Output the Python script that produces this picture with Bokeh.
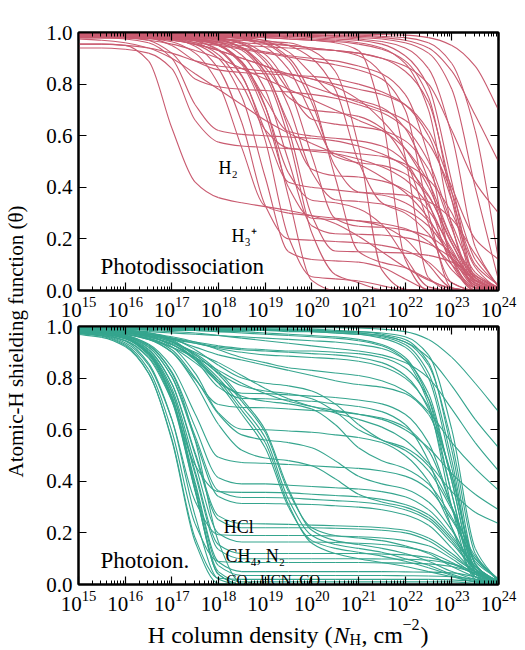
import math

from bokeh.embed import file_html
from bokeh.layouts import column, row
from bokeh.models import (ColumnDataSource, CustomJSTickFormatter, FixedTicker, Label, LinearAxis,
                          LogAxis, PrintfTickFormatter, Range1d)
from bokeh.plotting import figure
from bokeh.resources import INLINE

# Hydrogen column density grid, log10(N_H / cm^-2)
log_nh = [15.0, 15.5, 16.0, 16.5, 17.0, 17.5, 18.0, 18.5, 19.0, 19.5,
          20.0, 20.5, 21.0, 21.5, 22.0, 22.5, 23.0, 23.5, 24.0]

# ---- Photodissociation shielding functions (theta on the log_nh grid) ----
pd_early = [
    [.955, .955, .95, .89, .63, .42, .36, .34, .325, .31, .29, .26, .21, .15, .09, .04, .01, 0, 0],
    [.94, .94, .935, .92, .86, .66, .575, .56, .555, .55, .54, .53, .51, .48, .43, .33, .15, .04, .01],
    [.985, .98, .975, .96, .90, .72, .62, .605, .60, .595, .59, .58, .56, .53, .48, .37, .18, .05, .01],
    [.99, .99, .985, .97, .92, .82, .79, .78, .775, .77, .76, .745, .72, .69, .63, .50, .26, .07, .01],
    [.99, .99, .99, .98, .95, .89, .855, .845, .84, .835, .83, .82, .80, .77, .72, .60, .35, .10, .02],
    [.975, .97, .96, .94, .90, .84, .78, .72, .66, .61, .57, .53, .49, .44, .38, .28, .12, .03, 0],
    [.955, .955, .95, .94, .92, .89, .87, .86, .85, .84, .82, .79, .74, .66, .55, .40, .20, .06, .01],
]
pd_band = [
    [.985, .985, .983, .978, .964, .92, .80, .553, .327, .30, .29, .28, .27, .25, .20, .10, .01, 0, 0],
    [.99, .99, .988, .985, .976, .947, .86, .65, .33, .20, .195, .19, .185, .175, .155, .11, .03, 0, 0],
    [.985, .985, .985, .983, .979, .967, .93, .83, .62, .42, .40, .39, .38, .37, .34, .27, .14, .02, 0],
    [.98, .98, .98, .977, .971, .954, .90, .75, .44, .15, .12, .115, .11, .09, .045, .005, 0, 0, 0],
    [.99, .99, .99, .989, .986, .977, .95, .875, .685, .40, .28, .275, .27, .26, .24, .19, .10, .01, 0],
    [.985, .985, .985, .983, .979, .968, .934, .833, .583, .207, .053, .045, .037, .019, .002, 0, 0, 0, 0],
    [.99, .99, .99, .99, .988, .985, .974, .94, .845, .65, .47, .445, .44, .425, .39, .31, .16, .02, 0],
    [.985, .985, .985, .985, .983, .977, .962, .912, .778, .503, .251, .22, .218, .215, .205, .18, .125, .037, 0],
    [.98, .98, .98, .98, .977, .97, .951, .887, .715, .363, .039, 0, 0, 0, 0, 0, 0, 0, 0],
    [.99, .99, .99, .99, .989, .986, .978, .955, .886, .715, .458, .352, .345, .335, .31, .25, .13, .014, 0],
    [.985, .985, .985, .985, .983, .98, .97, .939, .849, .626, .29, .153, .15, .148, .145, .136, .11, .056, .006],
    [.99, .99, .99, .99, .99, .989, .985, .975, .943, .858, .681, .519, .495, .485, .453, .365, .185, .02, 0],
    [.985, .985, .985, .985, .985, .983, .978, .963, .915, .787, .522, .279, .249, .245, .235, .21, .143, .042, 0],
    [.99, .99, .99, .99, .99, .989, .986, .979, .956, .891, .728, .482, .382, .376, .369, .344, .277, .141, .015],
    [.99, .99, .99, .989, .986, .978, .953, .885, .744, .616, .599, .59, .58, .56, .50, .34, .10, 0, 0],
    [.99, .99, .99, .989, .988, .985, .974, .943, .865, .749, .699, .69, .675, .63, .51, .26, .03, 0, 0],
    [.99, .99, .99, .99, .989, .987, .98, .958, .898, .776, .664, .645, .635, .62, .58, .47, .24, .026, 0],
    [.99, .99, .99, .99, .99, .989, .988, .983, .967, .925, .838, .756, .737, .709, .628, .428, .126, .003, 0],
    [.985, .985, .984, .982, .977, .961, .914, .798, .623, .552, .545, .54, .53, .52, .49, .43, .30, .09, 0],
    [.985, .985, .985, .984, .981, .974, .95, .881, .712, .456, .35, .34, .317, .256, .13, .014, 0, 0, 0],
    [.98, .98, .98, .98, .978, .975, .964, .931, .832, .591, .223, .062, .03, .003, 0, 0, 0, 0, 0],
    [.985, .985, .985, .985, .985, .985, .982, .976, .959, .903, .751, .439, .151, .109, .088, .044, .005, 0, 0],
]
pd_mid = [
    [.985, .985, .98, .98, .98, .975, .97, .97, .965, .96, .93, .85, .56, .08, .005, 0, 0, 0, 0],
    [.99, .99, .99, .99, .99, .985, .985, .98, .98, .975, .97, .96, .93, .68, .12, 0, 0, 0, 0],
    [.98, .98, .98, .975, .975, .97, .965, .96, .955, .95, .94, .93, .91, .84, .52, .05, 0, 0, 0],
    [.99, .99, .985, .98, .975, .96, .95, .935, .92, .905, .89, .875, .855, .82, .70, .30, .01, 0, 0],
    [.99, .99, .99, .99, .99, .99, .985, .98, .97, .95, .90, .78, .50, .34, .30, .22, .08, .01, 0],
    [.99, .985, .98, .97, .955, .93, .90, .86, .82, .78, .74, .70, .66, .62, .55, .42, .20, .05, 0],
    [.995, .99, .985, .98, .97, .955, .93, .90, .87, .83, .79, .76, .73, .70, .66, .57, .38, .12, .02],
]
pd_late = [
    [.995, .995, .995, .99, .99, .99, .99, .985, .985, .98, .975, .97, .96, .94, .88, .70, .25, .01, 0],
    [.995, .995, .995, .995, .99, .99, .99, .99, .985, .985, .98, .975, .97, .955, .91, .79, .42, .05, 0],
    [.99, .99, .99, .985, .98, .97, .96, .95, .945, .94, .935, .93, .92, .90, .85, .73, .38, .04, 0],
    [.995, .995, .995, .995, .995, .99, .99, .99, .99, .985, .985, .98, .975, .965, .94, .86, .60, .17, .01],
    [.997, .997, .997, .997, .995, .995, .995, .995, .99, .99, .99, .985, .98, .975, .96, .92, .78, .40, .04],
    [.997, .997, .997, .997, .997, .997, .995, .995, .995, .995, .99, .99, .99, .985, .98, .96, .88, .62, .12],
    [.998, .998, .998, .998, .998, .997, .997, .997, .996, .996, .995, .995, .994, .992, .99, .98, .95, .87, .70],
    [.99, .99, .99, .985, .98, .97, .955, .94, .925, .91, .90, .89, .87, .84, .76, .52, .12, 0, 0],
    [.99, .99, .985, .98, .97, .955, .93, .90, .87, .84, .82, .80, .78, .76, .72, .62, .40, .20, .12],
    [.995, .995, .99, .99, .985, .98, .975, .97, .96, .95, .94, .93, .92, .90, .87, .80, .62, .42, .30],
    [.997, .997, .997, .996, .995, .995, .994, .993, .992, .99, .99, .988, .985, .98, .97, .94, .85, .68, .50],
    [.995, .995, .995, .99, .99, .99, .985, .985, .98, .975, .97, .965, .955, .935, .89, .75, .35, .03, 0],
]

# ---- Photoionization shielding functions ----
pi_early = [
    [.974, .962, .926, .82, .559, .165, .004, 0, 0, 0, 0, 0, 0, 0, 0, 0, 0, 0, 0],
    [.982, .975, .955, .891, .719, .364, .039, 0, 0, 0, 0, 0, 0, 0, 0, 0, 0, 0, 0],
    [.969, .958, .922, .819, .564, .18, .024, .02, .02, .02, .02, .02, .02, .02, .02, .02, .018, .012, .004],
    [.977, .971, .952, .89, .725, .385, .073, .035, .035, .035, .035, .035, .035, .035, .034, .033, .03, .02, .008],
    [.982, .976, .957, .896, .733, .396, .087, .05, .05, .05, .05, .05, .05, .05, .049, .048, .045, .03, .01],
    [.975, .964, .931, .834, .595, .235, .089, .085, .085, .085, .085, .085, .085, .084, .083, .08, .07, .045, .015],
    [.982, .976, .958, .901, .746, .427, .135, .10, .10, .10, .10, .10, .10, .099, .098, .094, .08, .05, .015],
    [.977, .971, .954, .898, .748, .438, .154, .12, .12, .12, .12, .12, .12, .118, .115, .105, .08, .04, .01],
    [.983, .977, .962, .912, .778, .503, .251, .22, .22, .22, .22, .218, .215, .21, .20, .17, .11, .05, .01],
    [.975, .966, .937, .851, .64, .323, .193, .19, .19, .19, .19, .188, .185, .18, .17, .15, .10, .04, .01],
    [.977, .972, .956, .903, .76, .467, .198, .165, .165, .165, .165, .163, .16, .155, .145, .125, .085, .04, .01],
    [.972, .965, .946, .882, .712, .361, .039, 0, 0, 0, 0, 0, 0, 0, 0, 0, 0, 0, 0],
    [.981, .971, .944, .858, .64, .266, .02, 0, 0, 0, 0, 0, 0, 0, 0, 0, 0, 0, 0],
    [.978, .974, .962, .926, .82, .559, .165, .004, 0, 0, 0, 0, 0, 0, 0, 0, 0, 0, 0],
    [.987, .98, .961, .897, .725, .373, .049, .01, .01, .01, .01, .01, .01, .01, .01, .01, .01, .005, 0],
]
pi_plateau = [
    [.99, .989, .986, .976, .949, .883, .782, .741, .74, .735, .73, .725, .715, .70, .66, .55, .30, .05, 0],
    [.985, .983, .98, .97, .942, .871, .765, .721, .72, .715, .71, .70, .69, .67, .62, .48, .22, .03, 0],
    [.979, .977, .971, .952, .901, .795, .698, .686, .685, .68, .675, .67, .66, .645, .61, .52, .30, .07, .01],
    [.984, .983, .978, .964, .922, .819, .665, .602, .60, .595, .59, .58, .57, .55, .50, .40, .22, .06, .01],
    [.978, .975, .965, .932, .843, .661, .493, .473, .47, .465, .46, .455, .45, .44, .42, .37, .25, .10, .02],
    [.983, .979, .967, .928, .824, .61, .414, .39, .39, .385, .38, .375, .37, .36, .34, .29, .19, .07, .01],
    [.976, .969, .946, .878, .712, .462, .36, .357, .357, .355, .35, .345, .34, .33, .31, .27, .18, .07, .01],
    [.978, .974, .961, .919, .806, .575, .363, .337, .337, .335, .33, .325, .32, .31, .29, .25, .16, .06, .01],
    [.983, .978, .965, .921, .804, .562, .341, .314, .314, .312, .31, .305, .30, .29, .27, .23, .14, .05, .01],
    [.978, .973, .958, .909, .779, .511, .266, .236, .235, .233, .23, .228, .225, .22, .21, .18, .12, .05, .01],
]
pi_diag = [
    [.98, .98, .975, .96, .93, .88, .80, .69, .57, .33, .19, .155, .14, .125, .10, .075, .04, .015, 0],
    [.985, .985, .98, .965, .94, .895, .825, .72, .60, .37, .21, .17, .155, .14, .12, .09, .05, .02, .005],
    [.975, .975, .97, .955, .92, .86, .78, .66, .53, .30, .17, .14, .125, .11, .09, .065, .035, .01, 0],
    [.98, .98, .975, .96, .935, .89, .815, .71, .59, .36, .22, .19, .18, .17, .15, .12, .07, .03, .005],
    [.985, .98, .975, .96, .93, .875, .79, .675, .55, .31, .16, .12, .10, .085, .07, .05, .03, .01, 0],
]
pi_upper = [
    [.995, .995, .995, .99, .99, .99, .99, .985, .985, .985, .98, .975, .97, .955, .92, .80, .45, .06, 0],
    [.99, .99, .99, .99, .985, .985, .98, .98, .975, .97, .965, .96, .95, .93, .88, .72, .35, .03, 0],
    [.995, .995, .995, .995, .99, .99, .99, .99, .985, .985, .985, .98, .975, .965, .94, .85, .55, .12, .01],
    [.99, .99, .985, .98, .975, .97, .965, .96, .955, .95, .945, .94, .93, .915, .87, .74, .40, .05, 0],
    [.985, .985, .98, .97, .955, .94, .925, .915, .91, .905, .905, .90, .895, .88, .84, .72, .40, .05, 0],
    [.98, .98, .975, .965, .95, .935, .92, .91, .905, .90, .895, .89, .88, .86, .81, .68, .35, .04, 0],
    [.99, .985, .98, .97, .955, .935, .915, .90, .89, .885, .88, .875, .865, .845, .80, .69, .42, .08, 0],
    [.985, .985, .98, .97, .95, .92, .89, .87, .85, .83, .81, .79, .775, .765, .74, .66, .42, .08, 0],
    [.995, .995, .995, .995, .995, .99, .99, .99, .99, .985, .985, .98, .98, .97, .95, .86, .52, .08, 0],
    [.99, .99, .99, .99, .99, .99, .985, .985, .985, .98, .98, .975, .97, .96, .93, .82, .48, .06, 0],
    [.995, .995, .995, .995, .995, .995, .99, .99, .99, .99, .99, .985, .98, .975, .96, .89, .60, .14, .01],
    [.99, .99, .99, .99, .99, .985, .98, .975, .97, .965, .96, .955, .945, .925, .87, .70, .30, .02, 0],
]
pi_edge = [
    [.998, .998, .998, .998, .997, .997, .997, .997, .996, .996, .995, .995, .994, .99, .98, .95, .88, .78, .67],
    [.995, .995, .995, .995, .995, .99, .99, .99, .99, .99, .985, .98, .975, .965, .94, .88, .77, .64, .53],
    [.99, .99, .99, .985, .98, .975, .965, .955, .945, .935, .925, .915, .905, .89, .86, .80, .68, .55, .44],
    [.99, .99, .985, .975, .96, .94, .91, .88, .86, .84, .83, .82, .81, .79, .75, .67, .55, .45, .365],
    [.985, .98, .97, .95, .92, .88, .83, .78, .74, .71, .69, .675, .66, .64, .60, .53, .43, .35, .29],
    [.99, .99, .98, .965, .94, .90, .86, .81, .76, .72, .69, .665, .64, .61, .56, .47, .36, .28, .236],
]
pi_wave = [
    [.985, .985, .98, .97, .945, .89, .82, .77, .75, .74, .72, .67, .60, .56, .53, .46, .30, .10, .02],
    [.98, .98, .975, .96, .93, .87, .79, .73, .71, .70, .68, .62, .53, .48, .45, .39, .26, .09, .02],
    [.99, .99, .985, .975, .955, .91, .85, .80, .78, .77, .75, .70, .62, .56, .52, .44, .29, .11, .02],
    [.98, .98, .97, .95, .90, .78, .62, .52, .49, .48, .46, .41, .35, .32, .30, .26, .17, .06, .01],
    [.985, .98, .97, .955, .91, .80, .66, .58, .56, .55, .53, .48, .42, .39, .37, .32, .21, .07, .01],
]

# Axis ticks
x_major_exponents = [15, 16, 17, 18, 19, 20, 21, 22, 23, 24]
y_major = [0.0, 0.2, 0.4, 0.6, 0.8, 1.0]

PINK = "#c95b70"
TEAL = "#35a58e"
SERIF = "Liberation Serif"
TICK_FONT = "21px"

x_major = [10.0 ** e for e in x_major_exponents]
x_minor = [m * 10.0 ** e for e in x_major_exponents[:-1] for m in range(2, 10)]

FRAME_W = 420
FRAME_H = 258
BORDER_L = 38
BORDER_R = 27
OVERLAP = 14       # lower panel canvas slides under the upper panel's decade labels


def curve_segments(groups):
    """Cubic Bezier pieces through every sample (monotone Hermite tangents in log N)."""
    seg = {k: [] for k in ("x0", "y0", "x1", "y1", "cx0", "cy0", "cx1", "cy1")}
    xs = log_nh
    for g in groups:
        for ys in g:
            n = len(ys)
            h = [xs[i + 1] - xs[i] for i in range(n - 1)]
            d = [(ys[i + 1] - ys[i]) / h[i] for i in range(n - 1)]
            m = [0.0] * n
            m[0], m[-1] = d[0], d[-1]
            for i in range(1, n - 1):
                if d[i - 1] * d[i] > 0:
                    w1, w2 = 2 * h[i] + h[i - 1], h[i] + 2 * h[i - 1]
                    m[i] = (w1 + w2) / (w1 / d[i - 1] + w2 / d[i])
            for i in range(n - 1):
                seg["x0"].append(10.0 ** xs[i])
                seg["y0"].append(ys[i])
                seg["x1"].append(10.0 ** xs[i + 1])
                seg["y1"].append(ys[i + 1])
                seg["cx0"].append(10.0 ** (xs[i] + h[i] / 3))
                seg["cy0"].append(ys[i] + m[i] * h[i] / 3)
                seg["cx1"].append(10.0 ** (xs[i + 1] - h[i] / 3))
                seg["cy1"].append(ys[i + 1] - m[i + 1] * h[i] / 3)
    return ColumnDataSource(seg)


def style_axis(ax, labels, standoff=6):
    ax.axis_line_color = "black"
    ax.axis_line_width = 2
    ax.major_tick_in = 8
    ax.major_tick_out = 0
    ax.minor_tick_in = 4
    ax.minor_tick_out = 0
    ax.major_tick_line_color = "black"
    ax.minor_tick_line_color = "black"
    ax.major_tick_line_width = 1.2
    ax.minor_tick_line_width = 1
    ax.major_label_text_font = SERIF
    ax.major_label_text_color = "black"
    if labels:
        ax.major_label_text_font_size = TICK_FONT
        ax.major_label_standoff = standoff
    else:
        # mirrored axis: ticks only, blank labels
        ax.formatter = CustomJSTickFormatter(code="return ''")
        ax.major_label_text_font_size = "1px"
        ax.major_label_standoff = 0


def make_panel(groups, color, top, bottom, **kw):
    p = figure(frame_width=FRAME_W, frame_height=FRAME_H, x_axis_type="log",
               x_range=Range1d(1e15, 1e24), y_range=Range1d(0, 1),
               toolbar_location=None, output_backend="svg",
               min_border_left=BORDER_L, min_border_right=BORDER_R,
               min_border_top=top, min_border_bottom=bottom, **kw)
    p.grid.visible = False
    p.outline_line_color = "black"
    p.outline_line_width = 2
    p.background_fill_color = "white"
    p.border_fill_color = None

    p.add_layout(LogAxis(), "above")
    p.add_layout(LinearAxis(), "right")

    for ax in p.xaxis:
        ax.ticker = FixedTicker(ticks=x_major, minor_ticks=x_minor)
    for ax in p.yaxis:
        ax.ticker = FixedTicker(ticks=y_major, minor_ticks=[])
        ax.formatter = PrintfTickFormatter(format="%.1f")

    style_axis(p.below[0], True)
    style_axis(p.left[0], True)
    style_axis(p.above[0], False)
    style_axis(p.right[0], False)

    p.bezier(x0="x0", y0="y0", x1="x1", y1="y1", cx0="cx0", cy0="cy0", cx1="cx1", cy1="cy1",
             source=curve_segments(groups), line_color=color, line_width=1.1)
    return p


def note(p, logx, y, text, size):
    p.add_layout(Label(x=10.0 ** logx, y=y, text=text, text_font=SERIF,
                       text_font_size=size, text_color="black",
                       text_align="left", text_baseline="alphabetic"))


top = make_panel([pd_early, pd_band, pd_mid, pd_late], PINK, 32, 34)
note(top, 18.0, 0.473, "H₂", "18px")
note(top, 18.28, 0.213, "H₃⁺", "18px")
note(top, 15.47, 0.093, "Photodissociation", "23px")

bot = make_panel([pi_early, pi_plateau, pi_diag, pi_upper, pi_edge, pi_wave], TEAL,
                 2 + OVERLAP, 30, margin=(-OVERLAP, 0, 0, 0))
note(bot, 18.11, 0.221, "HCl", "18px")
note(bot, 18.15, 0.109, "CH₄, N₂", "18px")
note(bot, 18.17, 0.019, "CO₂, HCN, CO", "15px")
note(bot, 15.47, 0.093, "Photoion.", "23px")

# Shared y-axis title
ylab = figure(width=40, height=650, toolbar_location=None, output_backend="svg",
              x_axis_location=None, y_axis_location=None, min_border=0,
              x_range=Range1d(0, 1), y_range=Range1d(0, 1))
ylab.grid.visible = False
ylab.outline_line_color = None
ylab.add_layout(Label(x=15, y=309, x_units="screen", y_units="screen",
                      text="Atomic-H shielding function (θ)", angle=math.pi / 2,
                      text_font=SERIF, text_font_size="21px", text_color="black",
                      text_align="center", text_baseline="middle"))

# x-axis title, assembled from pieces for the sub/superscripts
# (screen x is measured from the panel frames' left edge)
xlab = figure(width=BORDER_L + FRAME_W + BORDER_R, height=36, toolbar_location=None,
              output_backend="svg", x_axis_location=None, y_axis_location=None, min_border=0,
              x_range=Range1d(0, 1), y_range=Range1d(0, 1))
xlab.grid.visible = False
xlab.outline_line_color = None
pieces = [
    (254, 16, "H column density (", "24px", "normal", "right"),
    (255, 16, "N", "24px", "italic", "left"),
    (271, 11, "H", "16px", "normal", "left"),
    (283, 16, ", cm", "24px", "normal", "left"),
    (324, 26, "−2", "16px", "normal", "left"),
    (342, 16, ")", "24px", "normal", "left"),
]
for sx, sy, txt, size, style, align in pieces:
    xlab.add_layout(Label(x=sx, y=sy, x_units="screen", y_units="screen", text=txt,
                          text_font=SERIF, text_font_size=size, text_font_style=style,
                          text_color="black", text_align=align, text_baseline="alphabetic"))

layout = row(ylab, column(top, bot, xlab))

with open("out.html", "w") as f:
    f.write(file_html(layout, INLINE))
